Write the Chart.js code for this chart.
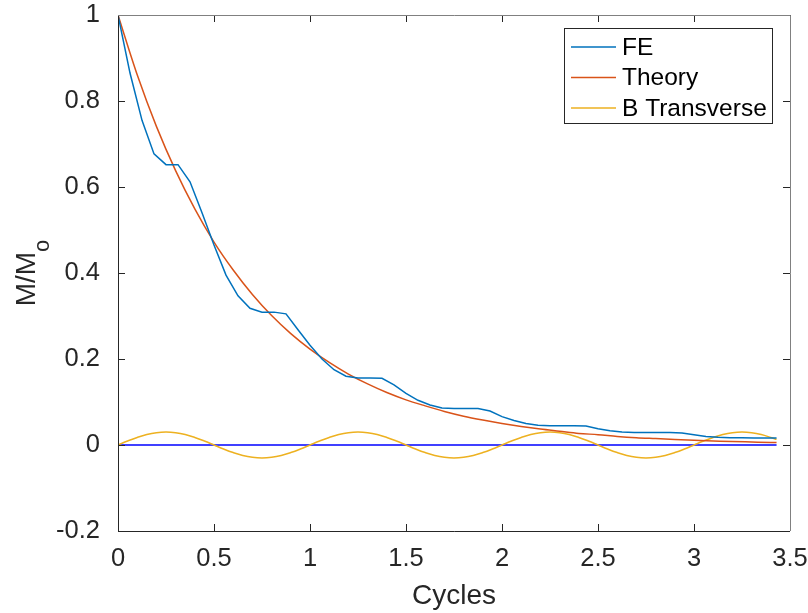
<!DOCTYPE html>
<html>
<head>
<meta charset="utf-8">
<script src="https://cdn.jsdelivr.net/npm/chart.js@4.4.1/dist/chart.umd.min.js"></script>
<style>
  body { margin: 0; background: #fff; }
  canvas { display: block; }
</style>
</head>
<body>
<canvas id="decayChart" width="808" height="613"></canvas>
<script>
const xTicks = [0, 0.5, 1, 1.5, 2, 2.5, 3, 3.5];
const xTickLabels = ["0", "0.5", "1", "1.5", "2", "2.5", "3", "3.5"];
const yTicks = [-0.2, 0, 0.2, 0.4, 0.6, 0.8, 1];
const yTickLabels = ["-0.2", "0", "0.2", "0.4", "0.6", "0.8", "1"];

// FE simulation
const feX = [0, 0.0625, 0.125, 0.1875, 0.25, 0.3125, 0.375, 0.4375, 0.5, 0.5625,
  0.625, 0.6875, 0.75, 0.8125, 0.875, 0.9375, 1, 1.0625, 1.125, 1.1875,
  1.25, 1.3125, 1.375, 1.4375, 1.5, 1.5625, 1.625, 1.6875, 1.75, 1.8125,
  1.875, 1.9375, 2, 2.0625, 2.125, 2.1875, 2.25, 2.3125, 2.375, 2.4375,
  2.5, 2.5625, 2.625, 2.6875, 2.75, 2.8125, 2.875, 2.9375, 3, 3.0625,
  3.125, 3.1875, 3.25, 3.3125, 3.375, 3.43];
const feY = [1.0, 0.865, 0.755, 0.677, 0.652, 0.652, 0.612, 0.54, 0.465, 0.395,
  0.347, 0.318, 0.309, 0.309, 0.305, 0.268, 0.232, 0.200, 0.175, 0.160,
  0.156, 0.156, 0.155, 0.140, 0.120, 0.104, 0.093, 0.086, 0.085, 0.085,
  0.085, 0.079, 0.066, 0.057, 0.050, 0.046, 0.045, 0.045, 0.045, 0.044,
  0.038, 0.033, 0.030, 0.029, 0.029, 0.029, 0.029, 0.028, 0.024, 0.020,
  0.018, 0.017, 0.017, 0.016, 0.016, 0.016];

// theory curve
const thX = [0, 0.1, 0.2, 0.3, 0.4, 0.5, 0.6, 0.7, 0.8, 0.9, 1, 1.1, 1.2, 1.3, 1.4,
  1.5, 1.6, 1.7, 1.8, 1.9, 2, 2.1, 2.2, 2.3, 2.4, 2.5, 2.6, 2.7, 2.8, 2.9,
  3, 3.1, 3.2, 3.3, 3.4, 3.43];
const thY = [1, 0.861, 0.741, 0.638, 0.549, 0.472, 0.407, 0.350, 0.301, 0.259,
  0.223, 0.192, 0.165, 0.142, 0.122, 0.105, 0.091, 0.078, 0.067, 0.058,
  0.050, 0.043, 0.037, 0.032, 0.027, 0.024, 0.020, 0.017, 0.015, 0.013,
  0.011, 0.0095, 0.008, 0.007, 0.006, 0.0058];

// transverse field
const btX = [0, 0.05, 0.1, 0.15, 0.2, 0.25, 0.3, 0.35, 0.4, 0.45,
  0.5, 0.55, 0.6, 0.65, 0.7, 0.75, 0.8, 0.85, 0.9, 0.95,
  1, 1.05, 1.1, 1.15, 1.2, 1.25, 1.3, 1.35, 1.4, 1.45,
  1.5, 1.55, 1.6, 1.65, 1.7, 1.75, 1.8, 1.85, 1.9, 1.95,
  2, 2.05, 2.1, 2.15, 2.2, 2.25, 2.3, 2.35, 2.4, 2.45,
  2.5, 2.55, 2.6, 2.65, 2.7, 2.75, 2.8, 2.85, 2.9, 2.95,
  3, 3.05, 3.1, 3.15, 3.2, 3.25, 3.3, 3.35, 3.4, 3.43];
const btY = [0, 0.0093, 0.0176, 0.0243, 0.0285, 0.03, 0.0285, 0.0243, 0.0176, 0.0093,
  0, -0.0093, -0.0176, -0.0243, -0.0285, -0.03, -0.0285, -0.0243, -0.0176, -0.0093,
  0, 0.0093, 0.0176, 0.0243, 0.0285, 0.03, 0.0285, 0.0243, 0.0176, 0.0093,
  0, -0.0093, -0.0176, -0.0243, -0.0285, -0.03, -0.0285, -0.0243, -0.0176, -0.0093,
  0, 0.0093, 0.0176, 0.0243, 0.0285, 0.03, 0.0285, 0.0243, 0.0176, 0.0093,
  0, -0.0093, -0.0176, -0.0243, -0.0285, -0.03, -0.0285, -0.0243, -0.0176, -0.0093,
  0, 0.0093, 0.0176, 0.0243, 0.0285, 0.03, 0.0285, 0.0243, 0.0176, 0.013];

const zeroX = [0, 3.43];
const zeroY = [0, 0];

const FONT = "'Liberation Sans', Arial, Helvetica, sans-serif";
const AXIS_DARK = "#262626";

function pts(xs, ys) {
  return xs.map((x, i) => ({ x: x, y: ys[i] }));
}

// box round the axes, with ticks pointing inward on all four sides
const boxPlugin = {
  id: "box",
  afterDatasetsDraw(chart) {
    const ctx = chart.ctx;
    const a = chart.chartArea;
    const xs = chart.scales.x;
    const ys = chart.scales.y;
    const tl = 7;
    ctx.save();
    ctx.lineWidth = 1;
    ctx.strokeStyle = AXIS_DARK;
    ctx.beginPath();
    for (const v of xTicks) {
      const px = Math.round(xs.getPixelForValue(v)) + 0.5;
      ctx.moveTo(px, a.bottom);
      ctx.lineTo(px, a.bottom - tl);
      ctx.moveTo(px, a.top);
      ctx.lineTo(px, a.top + tl);
    }
    for (const v of yTicks) {
      const py = Math.round(ys.getPixelForValue(v)) + 0.5;
      ctx.moveTo(a.left, py);
      ctx.lineTo(a.left + tl, py);
      ctx.moveTo(a.right, py);
      ctx.lineTo(a.right - tl, py);
    }
    ctx.stroke();
    // left and bottom
    ctx.beginPath();
    ctx.moveTo(Math.round(a.left) + 0.5, a.top);
    ctx.lineTo(Math.round(a.left) + 0.5, Math.round(a.bottom) + 0.5);
    ctx.lineTo(a.right, Math.round(a.bottom) + 0.5);
    ctx.stroke();
    // top and right
    ctx.strokeStyle = "#808080";
    ctx.beginPath();
    ctx.moveTo(a.left, Math.round(a.top) + 0.5);
    ctx.lineTo(Math.round(a.right) + 0.5, Math.round(a.top) + 0.5);
    ctx.lineTo(Math.round(a.right) + 0.5, a.bottom);
    ctx.stroke();

    // y title M/M with subscript o
    const mainFont = "28px " + FONT;
    const subFont = "22px " + FONT;
    ctx.fillStyle = AXIS_DARK;
    ctx.font = mainFont;
    const w1 = ctx.measureText("M/M").width;
    ctx.font = subFont;
    const w2 = ctx.measureText("o").width;
    const cy = (a.top + a.bottom) / 2;
    ctx.translate(35, cy);
    ctx.rotate(-Math.PI / 2);
    ctx.textBaseline = "alphabetic";
    ctx.textAlign = "left";
    ctx.font = mainFont;
    ctx.fillText("M/M", -(w1 + w2) / 2, 0);
    ctx.font = subFont;
    ctx.fillText("o", -(w1 + w2) / 2 + w1, 14);
    ctx.restore();

    // legend box
    const lx = 564, ly = 28, lw = 208, lh = 95;
    ctx.save();
    ctx.fillStyle = "#fff";
    ctx.fillRect(lx, ly, lw, lh);
    ctx.strokeStyle = AXIS_DARK;
    ctx.lineWidth = 1;
    ctx.strokeRect(lx + 0.5, ly + 0.5, lw, lh);
    ctx.font = "24.5px " + FONT;
    ctx.textBaseline = "middle";
    ctx.textAlign = "left";
    const items = chart.data.datasets.filter((d) => d.label);
    items.forEach((d, i) => {
      const ry = 47 + i * 30.5;
      ctx.strokeStyle = d.borderColor;
      ctx.lineWidth = 1.5;
      ctx.beginPath();
      ctx.moveTo(571, ry);
      ctx.lineTo(616, ry);
      ctx.stroke();
      ctx.fillStyle = "#000";
      ctx.fillText(d.label, 622, ry + 1);
    });
    ctx.restore();
  },
};

const ctx = document.getElementById("decayChart");
new Chart(ctx, {
  type: "line",
  data: {
    datasets: [
      {
        label: "FE",
        data: pts(feX, feY),
        borderColor: "#0072BD",
        borderWidth: 1.5,
        pointRadius: 0,
        tension: 0,
      },
      {
        label: "Theory",
        data: pts(thX, thY),
        borderColor: "#D95319",
        borderWidth: 1.5,
        pointRadius: 0,
        cubicInterpolationMode: "monotone",
      },
      {
        label: "B Transverse",
        data: pts(btX, btY),
        borderColor: "#EDB120",
        borderWidth: 1.5,
        pointRadius: 0,
        tension: 0.4,
      },
      {
        label: "",
        data: pts(zeroX, zeroY),
        borderColor: "#0000FF",
        borderWidth: 1.5,
        pointRadius: 0,
      },
    ],
  },
  options: {
    responsive: false,
    animation: false,
    devicePixelRatio: 1,
    layout: { padding: { top: 15, right: 18, left: 0, bottom: 0 } },
    plugins: {
      legend: { display: false },
      tooltip: { enabled: false },
    },
    scales: {
      x: {
        type: "linear",
        min: 0,
        max: 3.5,
        grid: { display: false },
        border: { display: false },
        afterBuildTicks: (scale) => {
          scale.ticks = xTicks.map((v) => ({ value: v }));
        },
        afterFit: (scale) => {
          scale.height = 82;
          scale.paddingLeft = 0;
          scale.paddingRight = 0;
        },
        ticks: {
          autoSkip: false,
          maxRotation: 0,
          padding: 5,
          color: AXIS_DARK,
          font: { family: FONT, size: 25.5 },
          callback: (value, index) => xTickLabels[index],
        },
        title: {
          display: true,
          text: "Cycles",
          color: AXIS_DARK,
          font: { family: FONT, size: 28 },
          padding: { top: 4, bottom: 0 },
        },
      },
      y: {
        type: "linear",
        min: -0.2,
        max: 1,
        grid: { display: false },
        border: { display: false },
        afterBuildTicks: (scale) => {
          scale.ticks = yTicks.map((v) => ({ value: v }));
        },
        afterFit: (scale) => {
          scale.width = 118;
          scale.paddingTop = 0;
          scale.paddingBottom = 0;
        },
        ticks: {
          autoSkip: false,
          padding: 10,
          color: AXIS_DARK,
          font: { family: FONT, size: 25.5 },
          callback: (value, index) => yTickLabels[index],
        },
      },
    },
  },
  plugins: [boxPlugin],
});
</script>
</body>
</html>
